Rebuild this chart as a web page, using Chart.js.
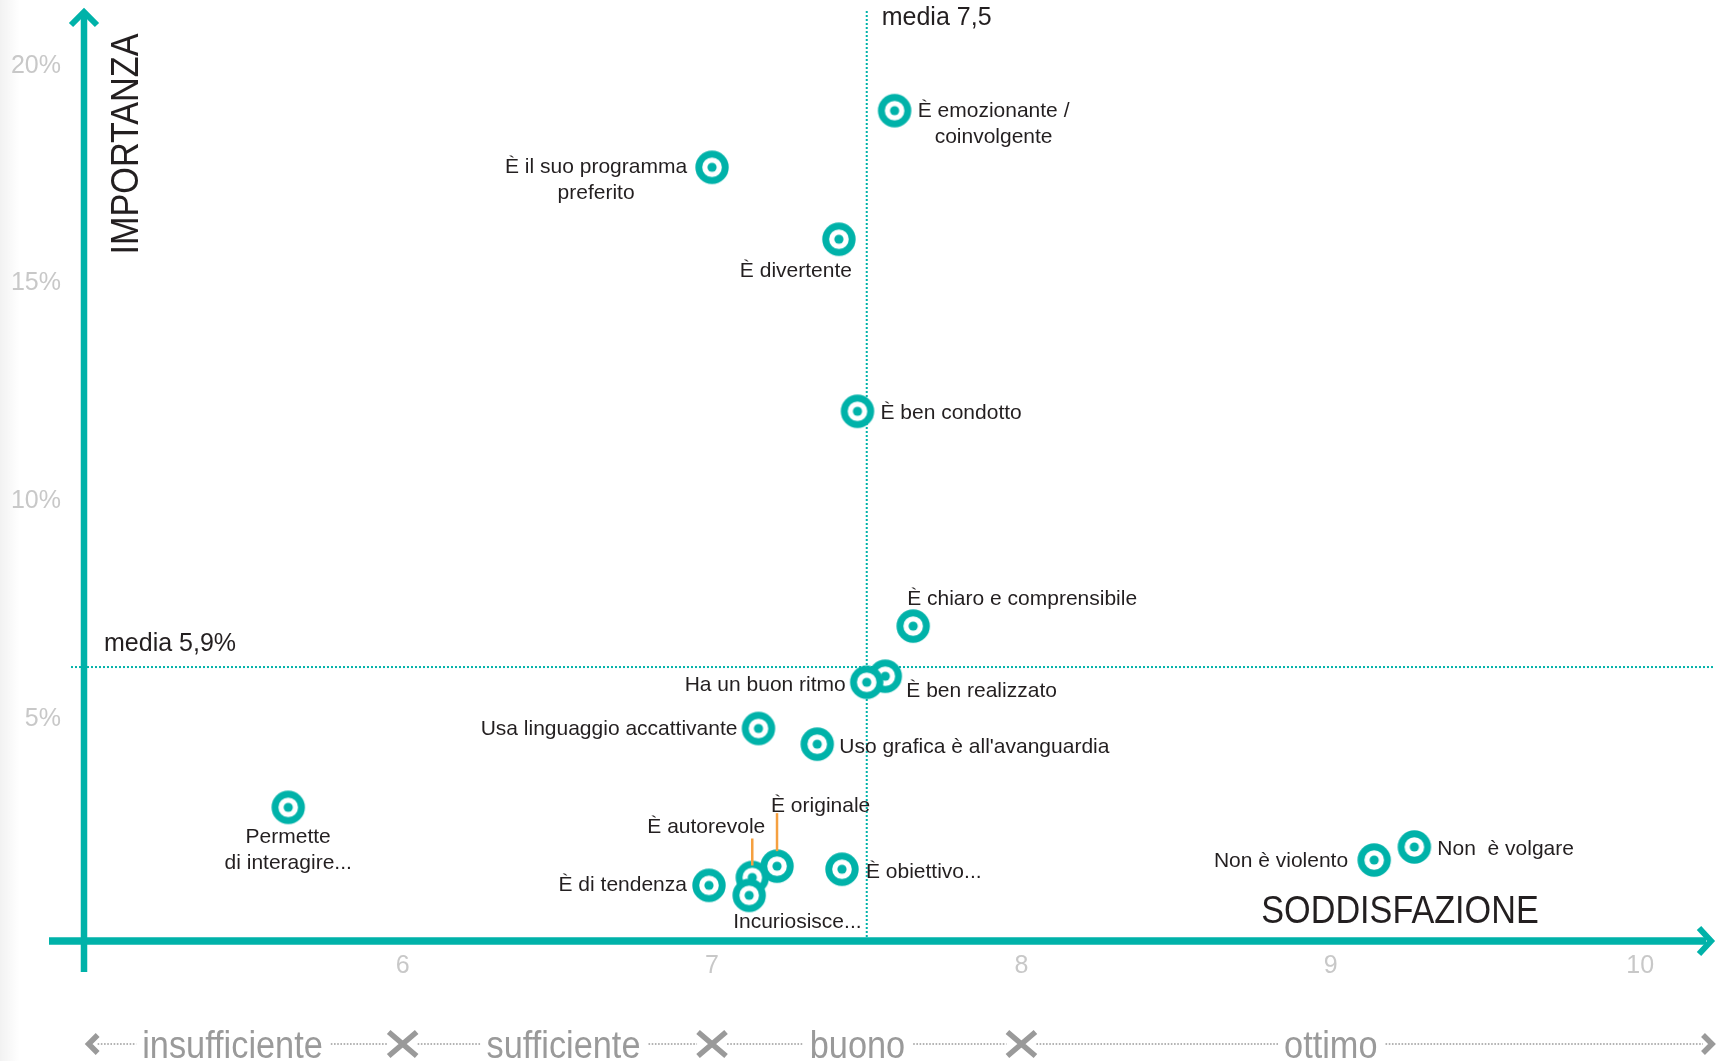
<!DOCTYPE html>
<html><head><meta charset="utf-8">
<script src="https://cdn.jsdelivr.net/npm/chart.js@4.4.1/dist/chart.umd.min.js"></script>
<style>html,body{margin:0;padding:0;background:#fff;overflow:hidden}canvas{display:block}</style>
</head><body>
<canvas id="c" width="1716" height="1061"></canvas>
<script>
// ---------- DATA ----------
const attributes = [
  "È emozionante /\ncoinvolgente",
  "È il suo programma\npreferito",
  "È divertente",
  "È ben condotto",
  "È chiaro e comprensibile",
  "È ben realizzato",
  "Ha un buon ritmo",
  "Usa linguaggio accattivante",
  "Uso grafica è all'avanguardia",
  "Permette\ndi interagire...",
  "È autorevole",
  "È originale",
  "È di tendenza",
  "Incuriosisce...",
  "È obiettivo...",
  "Non è violento",
  "Non  è volgare"
];
const soddisfazione = [7.59, 7.00, 7.41, 7.47, 7.65, 7.56, 7.50, 7.15, 7.34, 5.63, 7.13, 7.21, 6.99, 7.12, 7.42, 9.14, 9.27];
const importanza    = [18.92, 17.62, 15.97, 12.02, 7.09, 5.94, 5.80, 4.74, 4.38, 2.93, 1.32, 1.58, 1.14, 0.91, 1.51, 1.72, 2.02];
const xTickValues = [6, 7, 8, 9, 10];
const yTickValues = [5, 10, 15, 20];
const mediaSoddisfazione = 7.5;
const mediaImportanza = 6.15;
const mediaLabels = ["media 7,5", "media 5,9%"];
const axisTitles = ["SODDISFAZIONE", "IMPORTANZA"];
const bands = ["insufficiente", "sufficiente", "buono", "ottimo"];
const bandBoundaries = [6, 7, 8];

// ---------- STYLE / PLACEMENT ----------
const TEAL = '#00b2a9';
const TEXT = '#231f20';
const GRAY = '#9a9a9a';
const FONT = '"Liberation Sans", Arial, Helvetica, sans-serif';
const bandCenters = [5.45, 6.52, 7.47, 9.0];
const labelPlacement = [
  {a:'center', dx:99,  dy:1},
  {a:'center', dx:-116, dy:0},
  {a:'center', dx:-43, dy:32},
  {a:'left',   dx:23,  dy:2},
  {a:'left',   dx:-6,  dy:-27},
  {a:'left',   dx:21,  dy:15},
  {a:'right',  dx:-21, dy:3},
  {a:'right',  dx:-21, dy:1},
  {a:'left',   dx:22,  dy:3},
  {a:'center', dx:0,   dy:30},
  {a:'center', dx:-46, dy:-50, lead:[-39,-12]},
  {a:'left',   dx:-6,  dy:-60, lead:[-53,-15]},
  {a:'right',  dx:-22, dy:0},
  {a:'left',   dx:-16, dy:27},
  {a:'left',   dx:24,  dy:3},
  {a:'right',  dx:-26, dy:1},
  {a:'left',   dx:23,  dy:2}
];

function makeMarker(){
  const c = document.createElement('canvas'); c.width = 36; c.height = 36;
  const g = c.getContext('2d');
  g.beginPath(); g.arc(18,18,16.7,0,Math.PI*2); g.fillStyle = TEAL; g.fill();
  g.beginPath(); g.arc(18,18,9.8,0,Math.PI*2); g.fillStyle = '#fff'; g.fill();
  g.beginPath(); g.arc(18,18,4.6,0,Math.PI*2); g.fillStyle = TEAL; g.fill();
  return c;
}

function scaledText(ctx, text, x, y, sx, align){
  ctx.save(); ctx.translate(x, y); ctx.scale(sx, 1);
  ctx.textAlign = align || 'center'; ctx.fillText(text, 0, 0); ctx.restore();
}

const decor = {
  id: 'decor',
  beforeDraw(chart){
    const {ctx, width, height} = chart;
    ctx.save();
    ctx.fillStyle = '#fff'; ctx.fillRect(0,0,width,height);
    const g = ctx.createLinearGradient(0,0,20,0);
    g.addColorStop(0,'rgba(0,0,0,0.05)'); g.addColorStop(1,'rgba(0,0,0,0)');
    ctx.fillStyle = g; ctx.fillRect(0,0,20,height);
    ctx.restore();
  },
  beforeDatasetsDraw(chart){
    const {ctx, chartArea, scales:{x, y}} = chart;
    const axX = chartArea.left;
    const axY = y.getPixelForValue(0) + 6;
    ctx.save();
    // median dotted lines
    ctx.strokeStyle = TEAL; ctx.lineWidth = 2; ctx.setLineDash([2,2]);
    const mx = x.getPixelForValue(mediaSoddisfazione);
    ctx.beginPath(); ctx.moveTo(mx, 11); ctx.lineTo(mx, axY); ctx.stroke();
    const my = y.getPixelForValue(mediaImportanza);
    ctx.beginPath(); ctx.moveTo(71, my); ctx.lineTo(1713, my); ctx.stroke();
    ctx.setLineDash([]);
    // axes
    ctx.strokeStyle = TEAL; ctx.lineCap = 'butt'; ctx.lineJoin = 'miter';
    ctx.lineWidth = 6.5;
    ctx.beginPath(); ctx.moveTo(axX, 16); ctx.lineTo(axX, 972); ctx.stroke();
    ctx.lineWidth = 7.5;
    ctx.beginPath(); ctx.moveTo(49, axY); ctx.lineTo(1706, axY); ctx.stroke();
    ctx.lineWidth = 6;
    ctx.beginPath(); ctx.moveTo(axX-13, 25); ctx.lineTo(axX, 12); ctx.lineTo(axX+13, 25); ctx.stroke();
    ctx.beginPath(); ctx.moveTo(1699, axY-13); ctx.lineTo(1711, axY); ctx.lineTo(1699, axY+13); ctx.stroke();
    // texts
    ctx.fillStyle = TEXT; ctx.textBaseline = 'middle';
    ctx.font = '25px ' + FONT; ctx.textAlign = 'left';
    ctx.fillText(mediaLabels[0], mx + 15, 18);
    ctx.fillText(mediaLabels[1], 104, my - 23);
    ctx.font = '38px ' + FONT;
    scaledText(ctx, axisTitles[0], 1400, 913, 0.9, 'center');
    ctx.save(); ctx.translate(128, 144); ctx.rotate(-Math.PI/2); ctx.scale(0.9,1);
    ctx.textAlign = 'center'; ctx.fillText(axisTitles[1], 0, 0); ctx.restore();
    // bottom band row
    const yb = 1044;
    const stops = [x.getPixelForValue(4.985)].concat(bandBoundaries.map(v => x.getPixelForValue(v))).concat([1712]);
    ctx.strokeStyle = GRAY; ctx.lineWidth = 5.5;
    const chev = (tip, dir, w, h) => { ctx.beginPath(); ctx.moveTo(tip - dir*w, yb-h); ctx.lineTo(tip, yb); ctx.lineTo(tip - dir*w, yb+h); ctx.stroke(); };
    chev(stops[0], -1, 9, 9);
    for (let k = 1; k < stops.length - 1; k++){ chev(stops[k], 1, 14, 12); chev(stops[k], -1, 14, 12); }
    chev(stops[stops.length-1], 1, 9, 9);
    ctx.font = '39px ' + FONT; ctx.fillStyle = GRAY;
    const SX = 0.88;
    ctx.lineWidth = 1.6;
    bands.forEach((t, k) => {
      const c = x.getPixelForValue(bandCenters[k]);
      const w = ctx.measureText(t).width * SX;
      scaledText(ctx, t, c, yb + 3, SX, 'center');
      ctx.setLineDash([1.6,1.6]);
      const l0 = stops[k] + (k === 0 ? 9 : 15), l1 = c - w/2 - 6;
      const r0 = c + w/2 + 8, r1 = stops[k+1] - (k === bands.length-1 ? 9 : 15);
      ctx.beginPath(); ctx.moveTo(l0, yb); ctx.lineTo(l1, yb); ctx.moveTo(r0, yb); ctx.lineTo(r1, yb); ctx.stroke();
      ctx.setLineDash([]);
    });
    ctx.restore();
  },
  afterDatasetsDraw(chart){
    const {ctx, scales:{x, y}} = chart;
    ctx.save();
    ctx.font = '21px ' + FONT; ctx.fillStyle = TEXT; ctx.textBaseline = 'middle';
    attributes.forEach((t, i) => {
      const px = x.getPixelForValue(soddisfazione[i]);
      const py = y.getPixelForValue(importanza[i]);
      const p = labelPlacement[i];
      ctx.textAlign = p.a;
      t.split('\n').forEach((line, j) => ctx.fillText(line, px + p.dx, py + p.dy + j*26));
      if (p.lead){
        ctx.strokeStyle = '#f5a040'; ctx.lineWidth = 2.5;
        ctx.beginPath(); ctx.moveTo(px, py + p.lead[0]); ctx.lineTo(px, py + p.lead[1]); ctx.stroke();
      }
    });
    ctx.restore();
  }
};

const noPad = s => { s.paddingTop = 0; s.paddingBottom = 0; s.paddingLeft = 0; s.paddingRight = 0; };
const marker = makeMarker();
new Chart(document.getElementById('c'), {
  type: 'scatter',
  data: { datasets: [{
    data: soddisfazione.map((v, i) => ({x: v, y: importanza[i]})),
    pointStyle: marker, pointRadius: 17, pointHoverRadius: 17,
    backgroundColor: TEAL, borderColor: TEAL
  }]},
  options: {
    responsive: false, animation: false, events: [], devicePixelRatio: 1,
    layout: { padding: 0, autoPadding: false },
    plugins: { legend: {display:false}, tooltip: {enabled:false} },
    scales: {
      x: {
        type: 'linear', min: 4.97, max: 10.245,
        grid: {display:false, drawTicks:false}, border: {display:false},
        afterBuildTicks: s => { s.ticks = xTickValues.map(v => ({value:v})); },
        afterFit: s => { s.height = 126; noPad(s); },
        ticks: { padding: 16, color: 'rgb(200,200,200)', font: {size:25, family: FONT}, callback: v => String(v) }
      },
      y: {
        type: 'linear', min: 0, max: 21.46,
        grid: {display:false, drawTicks:false}, border: {display:false},
        afterBuildTicks: s => { s.ticks = yTickValues.map(v => ({value:v})); },
        afterFit: s => { s.width = 84; noPad(s); },
        ticks: { padding: 23, labelOffset: 2, color: 'rgb(200,200,200)', font: {size:25, family: FONT}, callback: v => v + '%' }
      }
    }
  },
  plugins: [decor]
});
</script>
</body></html>
